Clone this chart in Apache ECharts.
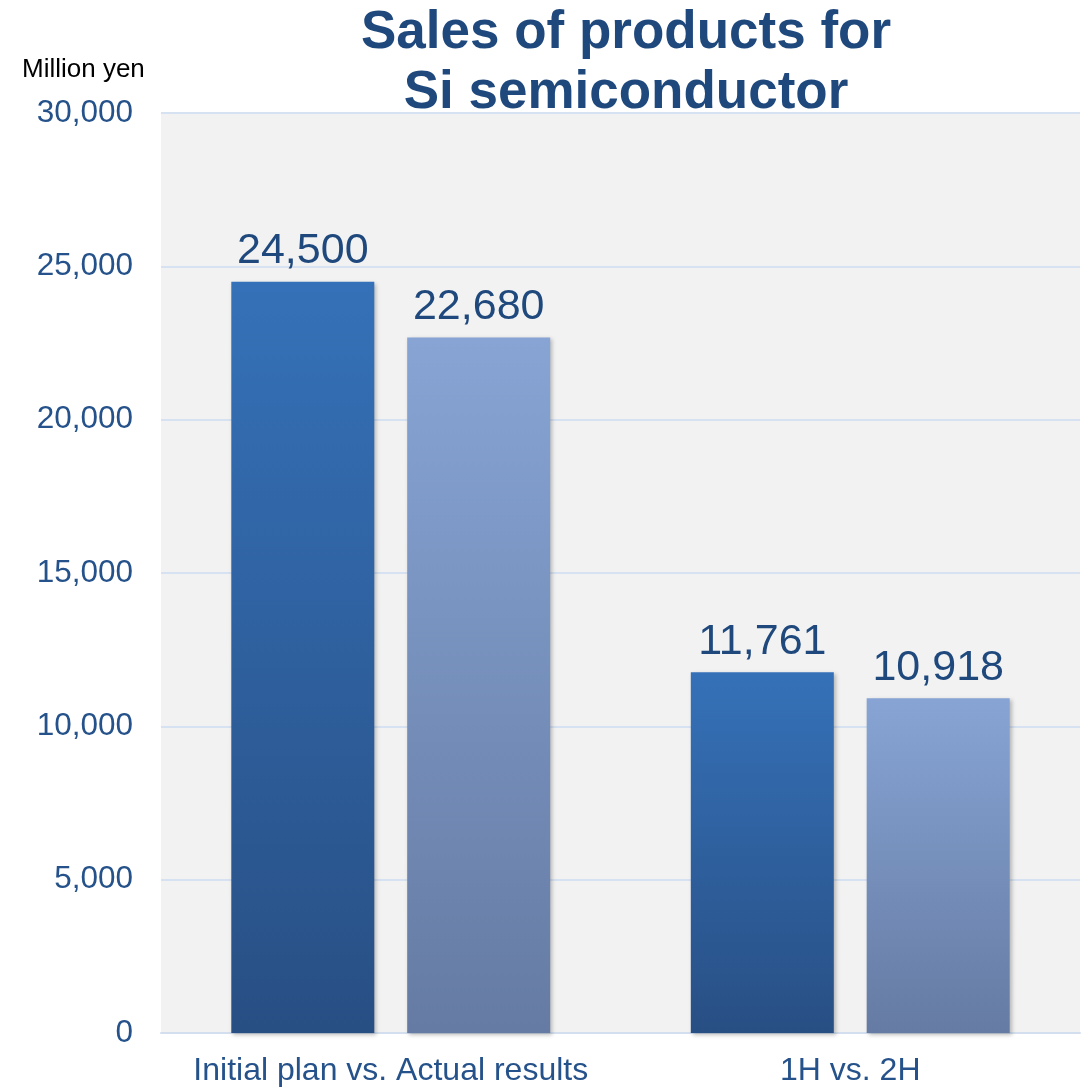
<!DOCTYPE html>
<html><head><meta charset="utf-8">
<script src="https://cdn.jsdelivr.net/npm/echarts@6/dist/echarts.min.js"></script>
<style>html,body{margin:0;padding:0;background:#fff}#c{width:1089px;height:1089px}</style>
</head><body><div id="c"></div>
<script>
const categories = ['Initial plan vs. Actual results', '1H vs. 2H'];
const seriesA = [24500, 11761];
const seriesB = [22680, 10918];
const yTicks = { min: 0, max: 30000, interval: 5000 };
const titleLines = ['Sales of products for', 'Si semiconductor'];
const unitLabel = 'Million yen';

const FONT = 'Arial, "Liberation Sans", sans-serif';
const chart = echarts.init(document.getElementById('c'));
const grad = (top, bottom) => new echarts.graphic.LinearGradient(0, 0, 0, 1, [
  { offset: 0, color: top }, { offset: 1, color: bottom }]);
const labelCfg = {
  show: true, position: 'top', distance: 9,
  fontFamily: FONT, fontSize: 43, color: '#1F497D',
  formatter: p => p.value.toLocaleString('en-US')
};
const shadow = { shadowBlur: 4, shadowOffsetX: 2, shadowOffsetY: 2, shadowColor: 'rgba(0,0,0,0.25)' };
chart.setOption({
  animation: false,
  backgroundColor: '#fff',
  graphic: [
    { type: 'text', x: 626, y: 3, style: { text: titleLines.join('\n'), align: 'center', verticalAlign: 'top',
      font: 'bold 53px ' + FONT, fill: '#1F497D', lineHeight: 60 } },
    { type: 'text', x: 22, y: 57, style: { text: unitLabel, align: 'left', verticalAlign: 'top',
      font: '26px ' + FONT, fill: '#000' } }
  ],
  grid: { left: 161, right: 9, top: 113, bottom: 56, show: true, backgroundColor: '#F2F2F2', borderWidth: 0 },
  xAxis: {
    type: 'category', data: categories,
    axisLine: { show: true, lineStyle: { color: '#D3DFEF', width: 2 } },
    axisTick: { show: false },
    axisLabel: { interval: 0, fontFamily: FONT, fontSize: 32, color: '#25528A', margin: 22 }
  },
  yAxis: {
    type: 'value', min: yTicks.min, max: yTicks.max, interval: yTicks.interval,
    axisLine: { show: false }, axisTick: { show: false },
    splitLine: { lineStyle: { color: '#D6E1F1', width: 2 } },
    axisLabel: { fontFamily: FONT, fontSize: 31.5, color: '#25528A', margin: 28,
      formatter: v => v.toLocaleString('en-US') }
  },
  series: [
    { type: 'bar', data: seriesA, barGap: '23%', barCategoryGap: '30.6%',
      itemStyle: Object.assign({ color: grad('#3571B8', '#284F84') }, shadow), label: labelCfg },
    { type: 'bar', data: seriesB,
      itemStyle: Object.assign({ color: grad('#87A4D4', '#657BA3') }, shadow), label: labelCfg }
  ]
});
</script></body></html>
